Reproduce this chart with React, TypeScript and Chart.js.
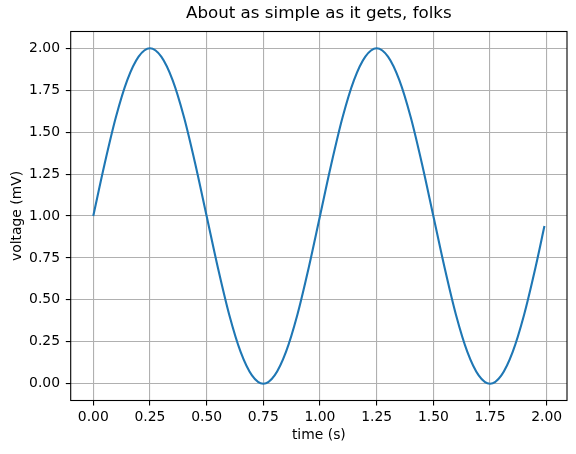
import { useEffect, useRef } from "react";
import { Chart, registerables } from "chart.js";

Chart.register(...registerables);

// time (s) samples
const timeS = [
  0.0, 0.05, 0.1, 0.15, 0.2, 0.25, 0.3, 0.35, 0.4, 0.45,
  0.5, 0.55, 0.6, 0.65, 0.7, 0.75, 0.8, 0.85, 0.9, 0.95,
  1.0, 1.05, 1.1, 1.15, 1.2, 1.25, 1.3, 1.35, 1.4, 1.45,
  1.5, 1.55, 1.6, 1.65, 1.7, 1.75, 1.8, 1.85, 1.9, 1.95, 1.99,
];
// voltage (mV)
const voltageMV = [
  1.0, 1.31, 1.59, 1.81, 1.95, 2.0, 1.95, 1.81, 1.59, 1.31,
  1.0, 0.69, 0.41, 0.19, 0.05, 0.0, 0.05, 0.19, 0.41, 0.69,
  1.0, 1.31, 1.59, 1.81, 1.95, 2.0, 1.95, 1.81, 1.59, 1.31,
  1.0, 0.69, 0.41, 0.19, 0.05, 0.0, 0.05, 0.19, 0.41, 0.69, 0.94,
];
const xTicks = [0, 0.25, 0.5, 0.75, 1.0, 1.25, 1.5, 1.75, 2.0];
const yTicks = [0, 0.25, 0.5, 0.75, 1.0, 1.25, 1.5, 1.75, 2.0];
const chartTitle = "About as simple as it gets, folks";

const FONT = "'DejaVu Sans', sans-serif";

// black frame around the plot area (matplotlib spines) + title centred on the axes
const framePlugin = {
  id: "frame",
  afterDatasetsDraw(chart: Chart) {
    const { ctx, chartArea: a } = chart;
    ctx.save();
    ctx.strokeStyle = "#000";
    ctx.lineWidth = 1.1;
    ctx.strokeRect(a.left, a.top, a.right - a.left, a.bottom - a.top);
    ctx.fillStyle = "#000";
    ctx.font = `16.7px ${FONT}`;
    ctx.textAlign = "center";
    ctx.textBaseline = "middle";
    ctx.fillText(chartTitle, (a.left + a.right) / 2, 14);
    ctx.restore();
  },
};

export default function App() {
  const canvasRef = useRef<HTMLCanvasElement>(null);
  const chartRef = useRef<Chart | null>(null);

  useEffect(() => {
    if (!canvasRef.current) return;
    chartRef.current?.destroy();
    chartRef.current = new Chart(canvasRef.current, {
      type: "line",
      data: {
        datasets: [
          {
            data: timeS.map((t, i) => ({ x: t, y: voltageMV[i] })),
            borderColor: "#1f77b4",
            borderWidth: 2.1,
            pointRadius: 0,
            cubicInterpolationMode: "monotone",
            fill: false,
          },
        ],
      },
      options: {
        animation: false,
        responsive: true,
        maintainAspectRatio: false,
        devicePixelRatio: 1,
        layout: { padding: { left: 0, right: 9, top: 31.5, bottom: 0 } },
        plugins: {
          legend: { display: false },
          tooltip: { enabled: false },
          title: { display: false },
        },
        scales: {
          x: {
            type: "linear",
            min: -0.0995,
            max: 2.0895,
            afterBuildTicks: (s: any) => {
              s.ticks = xTicks.map((v) => ({ value: v }));
            },
            afterFit: (s: any) => {
              s.height = 53.5;
            },
            ticks: {
              color: "#000",
              font: { family: FONT, size: 13.9 },
              padding: 4,
              maxRotation: 0,
              autoSkip: false,
              callback: (v: any) => Number(v).toFixed(2),
            },
            grid: {
              color: "#b0b0b0",
              lineWidth: 1.1,
              tickColor: "#000",
              tickLength: 4.9,
              tickWidth: 1.1,
            },
            border: { display: false },
            title: {
              display: true,
              text: "time (s)",
              color: "#000",
              font: { family: FONT, size: 13.9 },
              padding: { top: 0, bottom: 10.7 },
            },
          },
          y: {
            type: "linear",
            min: -0.1,
            max: 2.1,
            afterBuildTicks: (s: any) => {
              s.ticks = yTicks.map((v) => ({ value: v }));
            },
            afterFit: (s: any) => {
              s.width = 70.7;
            },
            ticks: {
              color: "#000",
              font: { family: FONT, size: 13.9 },
              padding: 5.8,
              autoSkip: false,
              callback: (v: any) => Number(v).toFixed(2),
            },
            grid: {
              color: "#b0b0b0",
              lineWidth: 1.1,
              tickColor: "#000",
              tickLength: 4.9,
              tickWidth: 1.1,
            },
            border: { display: false },
            title: {
              display: true,
              text: "voltage (mV)",
              color: "#000",
              font: { family: FONT, size: 13.9 },
              padding: { top: 8.7, bottom: 0 },
            },
          },
        },
      },
      plugins: [framePlugin],
    });
    return () => {
      chartRef.current?.destroy();
      chartRef.current = null;
    };
  }, []);

  return (
    <div
      style={{
        position: "absolute",
        left: 0,
        top: 0,
        width: 576,
        height: 454,
        background: "#fff",
      }}
    >
      <canvas ref={canvasRef}></canvas>
    </div>
  );
}
